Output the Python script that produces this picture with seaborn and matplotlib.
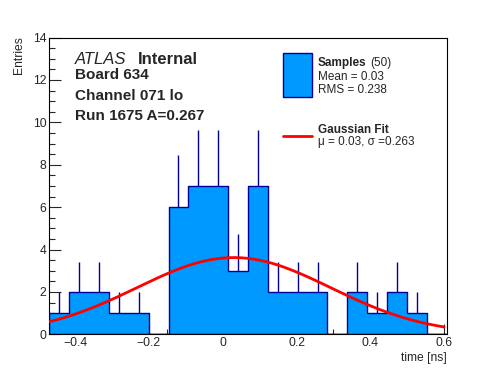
import numpy as np
import pandas as pd
import matplotlib
matplotlib.use("Agg")
import matplotlib.pyplot as plt
import seaborn as sns
from matplotlib.patches import Rectangle
from matplotlib.lines import Line2D
from matplotlib.ticker import MultipleLocator

# ---------------- data ----------------
bin_low = -0.47
bin_high = 0.607
counts = [1, 2, 2, 1, 1, 0, 6, 7, 7, 3, 7, 2, 2, 2, 0, 2, 1, 2, 1, 0]
fit_mu = 0.03
fit_sigma = 0.263
fit_amp = 3.62
fit_x_end = 0.6
x_ticks = [-0.4, -0.2, 0.0, 0.2, 0.4, 0.6]
x_tick_labels = ["\u22120.4", "\u22120.2", "0", "0.2", "0.4", "0.6"]
y_ticks = [0, 2, 4, 6, 8, 10, 12, 14]
y_tick_labels = ["0", "2", "4", "6", "8", "10", "12", "14"]
info_lines = ["Board 634", "Channel 071 lo", "Run 1675 A=0.267"]
legend_samples = ["Samples", "(50)", "Mean = 0.03", "RMS = 0.238"]
legend_fit = ["Gaussian Fit", "\u03bc = 0.03, \u03c3 =0.263"]
x_title = "time [ns]"
y_title = "Entries"

# ---------------- style ----------------
sns.set_style("ticks")
plt.rcParams["font.family"] = ["Liberation Sans", "DejaVu Sans"]

FILL = "#0099ff"
EDGE = "#000099"

W, H = 496, 372
fig = plt.figure(figsize=(W / 100, H / 100), dpi=100)


def fx(px):
    return px / W


def fy(py):
    return 1 - py / H


ax = fig.add_axes([fx(49.3), fy(334.3), (446.7 - 49.3) / W, (334.3 - 37.5) / H])

counts_a = np.array(counts, dtype=float)
nbins = len(counts)
edges = np.linspace(bin_low, bin_high, nbins + 1)
centers = 0.5 * (edges[:-1] + edges[1:])
df = pd.DataFrame({"time": centers, "n": counts_a})

nz = counts_a > 0
ax.errorbar(centers[nz], counts_a[nz], yerr=np.sqrt(counts_a[nz]), fmt="none",
            ecolor=EDGE, elinewidth=1.0, capsize=0, zorder=1)

sns.histplot(data=df, x="time", weights="n", bins=nbins, binrange=(bin_low, bin_high),
             element="step", fill=True, facecolor=FILL, edgecolor=EDGE, linewidth=1.0,
             alpha=1, ax=ax, zorder=2)

xs = np.linspace(bin_low, fit_x_end, 200)
ys = fit_amp * np.exp(-0.5 * ((xs - fit_mu) / fit_sigma) ** 2)
sns.lineplot(x=xs, y=ys, color="red", linewidth=2.0, ax=ax, zorder=3)

ax.set_xlim(bin_low, bin_high)
ax.set_ylim(0, 14)
ax.set_xlabel("")
ax.set_ylabel("")
ax.set_xticks(x_ticks)
ax.set_xticklabels(x_tick_labels)
ax.set_yticks(y_ticks)
ax.set_yticklabels(y_tick_labels)
ax.xaxis.set_minor_locator(MultipleLocator(0.05))
ax.yaxis.set_minor_locator(MultipleLocator(0.5))
ax.tick_params(axis="x", which="major", direction="in", length=7.2, width=0.8,
               labelsize=8.8, pad=2.2, top=False)
ax.tick_params(axis="x", which="minor", direction="in", length=3.6, width=0.8, top=False)
ax.tick_params(axis="y", which="major", direction="in", length=8.6, width=0.8,
               labelsize=8.8, pad=2.0, right=False)
ax.tick_params(axis="y", which="minor", direction="in", length=4.3, width=0.8, right=False)
for s in ax.spines.values():
    s.set_visible(True)
    s.set_linewidth(0.8)
    s.set_color("black")

# axis titles
fig.text(fx(446.5), fy(361), x_title, ha="right", va="baseline", fontsize=8.7)
fig.text(fx(19), fy(36.5), y_title, ha="center", va="top", rotation=90, fontsize=8.7)

# ATLAS label and info
fig.text(fx(75), fy(64), "ATLAS", style="italic", fontsize=12, va="baseline", ha="left")
fig.text(fx(137.7), fy(64), "Internal", weight="bold", fontsize=12, va="baseline", ha="left")
for line, yb in zip(info_lines, [79.3, 100, 120]):
    fig.text(fx(75), fy(yb), line, weight="bold", fontsize=11, va="baseline", ha="left")

# legend
fig.add_artist(Rectangle((fx(283.3), fy(96.7)), (311.7 - 283.3) / W, (96.7 - 53.3) / H,
                         transform=fig.transFigure, facecolor=FILL, edgecolor=EDGE, linewidth=1.0))
fig.text(fx(317.7), fy(66), legend_samples[0], weight="bold", fontsize=8.5, va="baseline")
fig.text(fx(370), fy(66), legend_samples[1], fontsize=8.5, va="baseline")
fig.text(fx(317.7), fy(80), legend_samples[2], fontsize=8.5, va="baseline")
fig.text(fx(317.7), fy(93.3), legend_samples[3], fontsize=8.5, va="baseline")
fig.add_artist(Line2D([fx(283), fx(311.7)], [fy(136), fy(136)], transform=fig.transFigure,
                      color="red", linewidth=2.0))
fig.text(fx(317.7), fy(132.7), legend_fit[0], weight="bold", fontsize=8.5, va="baseline")
fig.text(fx(317.7), fy(145), legend_fit[1], fontsize=8.5, va="baseline")

fig.savefig("out.png", dpi=100)
